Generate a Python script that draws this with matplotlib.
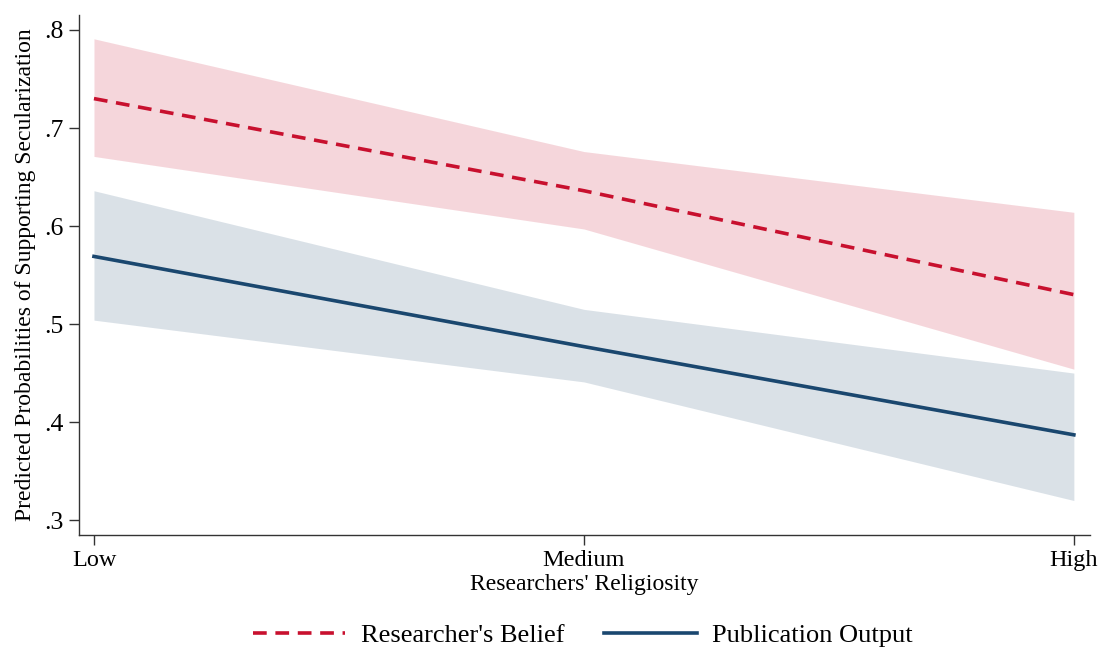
import numpy as np
import matplotlib
matplotlib.use("Agg")
from matplotlib import pyplot as plt

plt.rcParams['font.family'] = ['Liberation Serif', 'DejaVu Serif']

# predicted probabilities by religiosity level
levels = ['Low', 'Medium', 'High']
belief = [0.730, 0.636, 0.530]
belief_lo = [0.671, 0.597, 0.454]
belief_hi = [0.791, 0.676, 0.614]
output = [0.569, 0.477, 0.387]
output_lo = [0.504, 0.441, 0.320]
output_hi = [0.636, 0.515, 0.450]
yticks = [0.3, 0.4, 0.5, 0.6, 0.7, 0.8]
ytick_labels = ['.3', '.4', '.5', '.6', '.7', '.8']

red = '#C8102E'
blue = '#1A476F'

fig = plt.figure(figsize=(11, 6.51), dpi=100)
ax = fig.add_axes([0.0718, 0.178, 0.919, 0.799])
x = np.arange(len(levels))

ax.fill_between(x, belief_lo, belief_hi, color=red, alpha=0.17, lw=0)
ax.fill_between(x, output_lo, output_hi, color=blue, alpha=0.16, lw=0)
ax.plot(x, belief, color=red, lw=2.6, dashes=(3.8, 2.4), label="Researcher's Belief")
ax.plot(x, output, color=blue, lw=2.6, label='Publication Output')

ax.set_xlim(-0.0306, 2.0327)
ax.set_ylim(0.2847, 0.8153)
ax.set_xticks(x)
ax.set_xticklabels(levels, fontsize=17.5)
ax.set_yticks(yticks)
ax.set_yticklabels(ytick_labels, fontsize=18.5)
ax.tick_params(direction='out', length=7, width=1, color='#333333', pad=4)
ax.spines['top'].set_visible(False)
ax.spines['right'].set_visible(False)
for s in ['left', 'bottom']:
    ax.spines[s].set_color('#333333')
    ax.spines[s].set_linewidth(1)

ax.set_xlabel("Researchers' Religiosity", fontsize=17, labelpad=2)
ax.set_ylabel('Predicted Probabilities of Supporting Secularization', fontsize=17, labelpad=6)

fig.legend(loc='center', bbox_to_anchor=(0.53, 0.024), ncol=2, frameon=False,
           fontsize=19, handlelength=3.5, handletextpad=0.6, columnspacing=1.5)

fig.savefig('out.png', dpi=100)
